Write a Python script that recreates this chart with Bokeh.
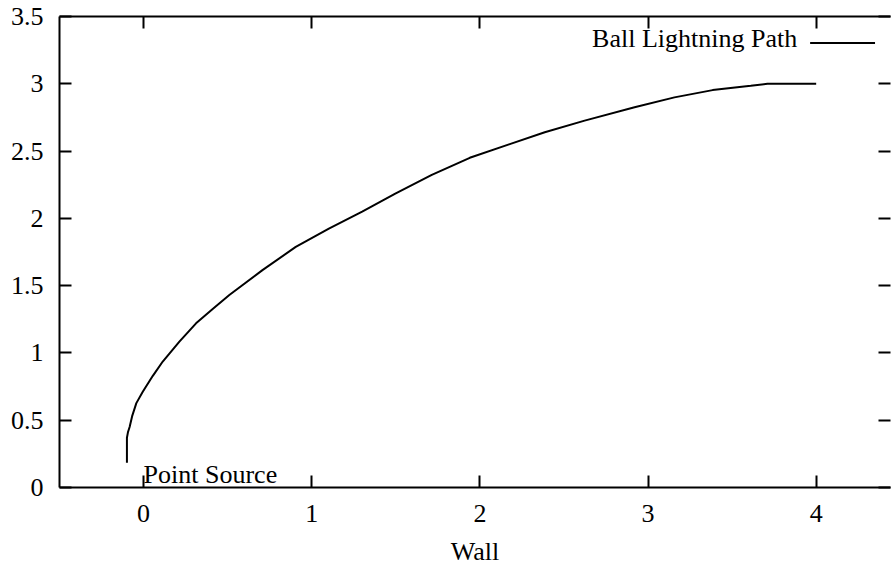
from bokeh.plotting import figure
from bokeh.models import Range1d, LinearAxis, FixedTicker, Label, Arrow, CustomLabelingPolicy
from bokeh.embed import file_html
from bokeh.resources import INLINE

# ---- data ----
path_x = [-0.099, -0.099, -0.093, -0.083, -0.068, -0.043, -0.004, 0.055, 0.114,
          0.213, 0.312, 0.411, 0.510, 0.707, 0.905, 1.102, 1.300, 1.497, 1.714,
          1.940, 2.169, 2.386, 2.623, 2.920, 3.157, 3.384, 3.611, 3.710, 4.000]
path_y = [0.183, 0.370, 0.410, 0.450, 0.530, 0.627, 0.713, 0.830, 0.936,
          1.084, 1.220, 1.326, 1.430, 1.615, 1.788, 1.923, 2.050, 2.183, 2.323,
          2.450, 2.548, 2.640, 2.726, 2.825, 2.899, 2.953, 2.985, 3.000, 3.000]

x_ticks = [0, 1, 2, 3, 4]
x_tick_labels = ["0", "1", "2", "3", "4"]
y_ticks = [0, 0.5, 1, 1.5, 2, 2.5, 3, 3.5]
y_tick_labels = ["0", "0.5", "1", "1.5", "2", "2.5", "3", "3.5"]

series_name = "Ball Lightning Path"
source_label = "Point Source"
x_axis_title = "Wall"

FONT = "Liberation Serif"
FS = "26px"

p = figure(width=894, height=568, output_backend="svg", toolbar_location=None,
           x_range=Range1d(-0.5, 4.442), y_range=Range1d(0, 3.5),
           min_border_left=59, min_border_right=1, min_border_top=16,
           min_border_bottom=80)
p.xgrid.visible = False
p.ygrid.visible = False
p.outline_line_color = None
p.background_fill_color = "white"
p.border_fill_color = "white"

def style_axis(ax, ticks, labels, show_labels=True, show_line=True):
    ax.ticker = FixedTicker(ticks=ticks)
    ax.major_label_overrides = {t: l for t, l in zip(ticks, labels)}
    ax.major_tick_in = 12
    ax.major_tick_out = 0
    ax.minor_tick_in = 0
    ax.minor_tick_out = 0
    ax.major_tick_line_color = "black"
    ax.major_tick_line_width = 2
    ax.axis_line_color = "black" if show_line else None
    ax.axis_line_width = 2
    ax.major_label_text_font = FONT
    ax.major_label_text_color = "black"
    if show_labels:
        ax.major_label_text_font_size = FS
    else:
        ax.major_label_text_font_size = "1px"
        ax.major_label_standoff = 0
        ax.major_label_policy = CustomLabelingPolicy(
            code="for (const i of indices) { indices.unset(i) } return indices")

# bottom / left axes
xa = p.xaxis[0]
ya = p.yaxis[0]
style_axis(xa, x_ticks, x_tick_labels)
style_axis(ya, y_ticks, y_tick_labels)
xa.major_label_standoff = 17
ya.major_label_standoff = 16
xa.axis_label = x_axis_title
xa.axis_label_text_font = FONT
xa.axis_label_text_font_size = FS
xa.axis_label_text_font_style = "normal"
xa.axis_label_text_color = "black"
xa.axis_label_standoff = 12

# mirrored ticks on top and right
top = LinearAxis()
style_axis(top, x_ticks, x_tick_labels, show_labels=False)
p.add_layout(top, "above")
right = LinearAxis()
style_axis(right, y_ticks, y_tick_labels, show_labels=False, show_line=False)
p.add_layout(right, "right")

# the path
p.line(path_x, path_y, line_color="black", line_width=2)

# annotation at the source
p.add_layout(Label(x=0, y=0.096, text=source_label, text_font=FONT,
                   text_font_size=FS, text_color="black",
                   text_align="left", text_baseline="middle"))

# key (text then sample line, gnuplot style)
p.add_layout(Label(x=3.887, y=3.333, text=series_name, text_font=FONT,
                   text_font_size=FS, text_color="black",
                   text_align="right", text_baseline="middle"))
p.add_layout(Arrow(x_start=3.964, y_start=3.304, x_end=4.35, y_end=3.304,
                   start=None, end=None, line_color="black", line_width=2))

open("out.html", "w").write(file_html(p, INLINE))
